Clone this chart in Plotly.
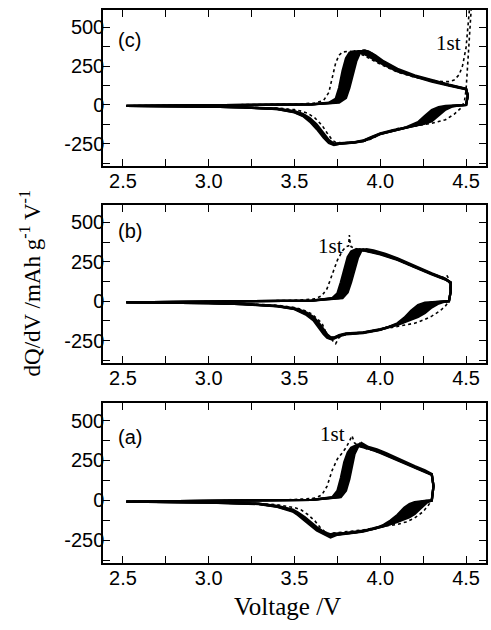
import plotly.graph_objects as go

# ---------------- data ----------------
X_TICKS = [2.5, 2.75, 3.0, 3.25, 3.5, 3.75, 4.0, 4.25, 4.5]
X_LABELS = ["2.5", "", "3.0", "", "3.5", "", "4.0", "", "4.5"]
Y_TICKS = [-375, -250, -125, 0, 125, 250, 375, 500]
Y_LABELS = ["", "-250", "", "0", "", "250", "", "500"]
PANELS = ["(a)", "(b)", "(c)"]

# Panel (c): 4.5 V cut-off
C_CH_V = [
    [2.52, 3.0, 3.4, 3.6, 3.70, 3.74, 3.76, 3.78, 3.80, 3.82, 3.85, 3.88, 3.92, 4.0, 4.1, 4.2, 4.3, 4.4, 4.5, 4.51, 4.50],
    [2.52, 3.0, 3.4, 3.6, 3.72, 3.76, 3.78, 3.80, 3.82, 3.84, 3.87, 3.90, 3.94, 4.0, 4.1, 4.2, 4.3, 4.4, 4.5, 4.51, 4.50],
    [2.52, 3.0, 3.4, 3.6, 3.74, 3.78, 3.80, 3.82, 3.84, 3.86, 3.88, 3.91, 3.95, 4.0, 4.1, 4.2, 4.3, 4.4, 4.5, 4.51, 4.50],
    [2.52, 3.0, 3.4, 3.6, 3.76, 3.80, 3.82, 3.84, 3.86, 3.88, 3.90, 3.93, 3.97, 4.02, 4.1, 4.2, 4.3, 4.4, 4.5, 4.51, 4.50],
]
C_CH_Q = [
    [-6, -3, 0, 4, 15, 40, 110, 220, 300, 335, 345, 340, 320, 270, 215, 180, 150, 125, 100, 60, 0],
    [-6, -3, 0, 4, 15, 40, 100, 200, 280, 330, 345, 345, 320, 275, 220, 183, 153, 127, 102, 60, 0],
    [-6, -3, 0, 4, 15, 40, 100, 190, 270, 320, 340, 350, 330, 285, 225, 186, 155, 128, 103, 60, 0],
    [-6, -3, 0, 4, 15, 45, 110, 200, 280, 330, 350, 345, 320, 280, 232, 190, 158, 130, 105, 60, 0],
]
C_DIS_V = [4.50, 4.46, 4.42, 4.38, 4.34, 4.30, 4.26, 4.22, 4.15, 4.08, 4.0, 3.95, 3.9, 3.85, 3.8,
           3.76, 3.73, 3.70, 3.67, 3.63, 3.59, 3.55, 3.5, 3.4, 3.2, 3.0, 2.52]
C_DIS_Q = [
    [0, -3, -10, -30, -70, -105, -120, -130, -145, -160, -182, -205, -228, -238, -242, -250, -248, -225, -180, -125, -85, -58, -40, -24, -15, -10, -6],
    [0, -2, -6, -18, -45, -85, -115, -128, -145, -162, -185, -208, -230, -240, -244, -252, -250, -232, -190, -135, -92, -62, -43, -25, -15, -10, -6],
    [0, -2, -4, -10, -25, -55, -95, -122, -146, -163, -185, -210, -232, -240, -243, -250, -255, -240, -200, -145, -100, -68, -46, -26, -16, -11, -6],
    [0, -2, -3, -6, -14, -32, -70, -110, -144, -165, -188, -212, -233, -242, -245, -250, -258, -245, -210, -155, -108, -72, -48, -27, -16, -11, -6],
]
C_FIRST_V = [2.52, 3.0, 3.5, 3.62, 3.67, 3.70, 3.72, 3.74, 3.76, 3.78, 3.82, 3.86, 3.9, 4.0, 4.1, 4.2, 4.3,
             4.36, 4.40, 4.43, 4.46, 4.48, 4.50, 4.51, 4.52,
             4.53, 4.52, 4.51, 4.50, 4.49, 4.47, 4.43, 4.38, 4.3, 4.2, 4.1, 4.0, 3.95, 3.9, 3.85, 3.78,
             3.74, 3.72, 3.69, 3.66, 3.62, 3.58, 3.54, 3.5, 3.4, 3.0, 2.52]
C_FIRST_Q = [-5, -2, 5, 12, 30, 80, 180, 270, 320, 340, 345, 340, 320, 262, 212, 178, 158,
             150, 150, 160, 195, 255, 370, 480, 620,
             620, 450, 250, 100, 20, -20, -60, -95, -118, -135, -152, -185, -218, -234, -240, -244,
             -240, -225, -180, -130, -85, -55, -40, -30, -20, -10, -6]

# Panel (b): 4.4 V cut-off
B_CH_V = [
    [2.52, 3.0, 3.4, 3.6, 3.72, 3.75, 3.77, 3.79, 3.81, 3.83, 3.86, 3.90, 4.00, 4.1, 4.2, 4.3, 4.38, 4.41, 4.41, 4.40],
    [2.52, 3.0, 3.4, 3.6, 3.74, 3.77, 3.79, 3.81, 3.83, 3.85, 3.88, 3.92, 4.00, 4.1, 4.2, 4.3, 4.38, 4.41, 4.41, 4.40],
    [2.52, 3.0, 3.4, 3.6, 3.76, 3.79, 3.81, 3.83, 3.85, 3.87, 3.90, 3.94, 4.02, 4.1, 4.2, 4.3, 4.38, 4.41, 4.41, 4.40],
    [2.52, 3.0, 3.4, 3.6, 3.78, 3.81, 3.83, 3.85, 3.87, 3.89, 3.92, 3.96, 4.03, 4.1, 4.2, 4.3, 4.38, 4.41, 4.41, 4.40],
]
B_CH_Q = [
    [-8, -4, 0, 4, 20, 50, 120, 210, 280, 315, 330, 322, 297, 262, 214, 170, 137, 117, 60, 0],
    [-8, -4, 0, 4, 20, 50, 115, 205, 275, 315, 330, 320, 300, 265, 216, 172, 138, 118, 60, 0],
    [-8, -4, 0, 4, 20, 50, 115, 200, 270, 315, 330, 318, 298, 268, 218, 174, 140, 119, 60, 0],
    [-8, -4, 0, 4, 20, 55, 120, 205, 275, 320, 330, 322, 300, 272, 222, 177, 142, 120, 60, 0],
]
B_DIS_V = [4.40, 4.37, 4.34, 4.30, 4.26, 4.22, 4.18, 4.14, 4.1, 4.05, 4.0, 3.9, 3.8, 3.76, 3.73,
           3.71, 3.69, 3.67, 3.64, 3.61, 3.57, 3.53, 3.5, 3.4, 3.2, 3.0, 2.52]
B_DIS_Q = [
    [0, -5, -15, -40, -75, -100, -118, -135, -150, -165, -178, -198, -205, -215, -230, -228, -210, -180, -135, -100, -72, -55, -45, -30, -18, -12, -8],
    [0, -3, -6, -15, -35, -70, -105, -130, -148, -165, -180, -200, -207, -218, -232, -232, -218, -190, -145, -108, -78, -58, -47, -31, -18, -12, -8],
    [0, -2, -4, -8, -18, -45, -85, -120, -145, -164, -180, -200, -208, -220, -235, -236, -225, -200, -155, -115, -83, -62, -49, -32, -19, -13, -8],
    [0, -2, -3, -5, -10, -25, -60, -105, -140, -162, -182, -202, -210, -222, -238, -240, -232, -210, -165, -122, -88, -65, -51, -33, -19, -13, -8],
]
B_FIRST_V = [2.52, 3.0, 3.5, 3.62, 3.66, 3.69, 3.72, 3.75, 3.78, 3.80, 3.815, 3.82, 3.825, 3.83, 3.85,
             3.9, 4.0, 4.1, 4.2, 4.3, 4.37, 4.39, 4.40, 4.41, 4.40,
             4.38, 4.35, 4.3, 4.25, 4.2, 4.1, 4.0, 3.9, 3.8, 3.76, 3.74, 3.72, 3.70, 3.68,
             3.66, 3.63, 3.6, 3.55, 3.5, 3.4, 3.2, 3.0, 2.52]
B_FIRST_Q = [-6, -3, 5, 15, 35, 80, 170, 260, 320, 345, 350, 420, 360, 345, 335,
             320, 300, 262, 215, 172, 150, 160, 140, 60, 0,
             -30, -60, -95, -120, -140, -160, -180, -200, -210, -230, -270, -245, -225, -190,
             -140, -110, -80, -55, -40, -26, -15, -10, -6]

# Panel (a): 4.3 V cut-off
A_CH_V = [
    [2.52, 3.0, 3.4, 3.6, 3.72, 3.75, 3.77, 3.79, 3.81, 3.83, 3.86, 3.90, 3.95, 4.0, 4.1, 4.2, 4.26, 4.30, 4.31, 4.30],
    [2.52, 3.0, 3.4, 3.6, 3.74, 3.77, 3.79, 3.81, 3.83, 3.85, 3.87, 3.91, 3.96, 4.0, 4.1, 4.2, 4.26, 4.30, 4.31, 4.30],
    [2.52, 3.0, 3.4, 3.6, 3.76, 3.79, 3.81, 3.83, 3.84, 3.86, 3.88, 3.92, 3.97, 4.02, 4.1, 4.2, 4.26, 4.30, 4.31, 4.30],
    [2.52, 3.0, 3.4, 3.6, 3.77, 3.80, 3.82, 3.84, 3.85, 3.87, 3.89, 3.93, 3.98, 4.03, 4.1, 4.2, 4.26, 4.30, 4.31, 4.30],
]
A_CH_Q = [
    [-7, -4, 0, 4, 20, 60, 140, 240, 300, 330, 345, 335, 318, 298, 252, 208, 182, 160, 90, 0],
    [-7, -4, 0, 4, 20, 55, 130, 230, 290, 330, 350, 335, 315, 300, 255, 210, 184, 162, 90, 0],
    [-7, -4, 0, 4, 20, 55, 130, 225, 285, 330, 355, 330, 318, 295, 258, 212, 186, 164, 90, 0],
    [-7, -4, 0, 4, 20, 60, 135, 230, 290, 335, 360, 335, 320, 298, 262, 215, 188, 166, 90, 0],
]
A_DIS_V = [4.30, 4.27, 4.24, 4.20, 4.17, 4.14, 4.10, 4.06, 4.02, 3.97, 3.9, 3.85, 3.8, 3.75, 3.71,
           3.69, 3.66, 3.63, 3.60, 3.56, 3.52, 3.49, 3.4, 3.29, 3.0, 2.52]
A_DIS_Q = [
    [0, -15, -45, -85, -105, -120, -135, -148, -160, -172, -190, -198, -203, -207, -212, -205, -190, -168, -140, -105, -75, -58, -35, -20, -12, -7],
    [0, -6, -20, -55, -85, -108, -130, -148, -162, -175, -192, -200, -205, -210, -218, -210, -195, -175, -148, -112, -80, -62, -37, -21, -12, -7],
    [0, -3, -8, -25, -50, -80, -115, -140, -160, -176, -194, -202, -207, -212, -224, -215, -200, -182, -155, -120, -86, -66, -39, -22, -13, -7],
    [0, -2, -4, -10, -22, -45, -90, -125, -152, -176, -195, -203, -208, -215, -232, -220, -205, -188, -162, -126, -92, -70, -41, -23, -13, -7],
]
A_FIRST_V = [2.52, 3.0, 3.5, 3.62, 3.66, 3.69, 3.72, 3.75, 3.78, 3.80, 3.82, 3.835, 3.84, 3.85, 3.87,
             3.9, 4.0, 4.1, 4.2, 4.26, 4.30, 4.31, 4.30,
             4.28, 4.25, 4.2, 4.15, 4.1, 4.0, 3.9, 3.8, 3.72, 3.70, 3.68, 3.65, 3.62, 3.58, 3.54, 3.5,
             3.4, 3.2, 3.0, 2.52]
A_FIRST_Q = [-6, -3, 5, 15, 35, 90, 190, 260, 300, 330, 370, 405, 390, 360, 345,
             330, 300, 255, 210, 180, 160, 100, 0,
             -30, -70, -110, -135, -150, -165, -185, -195, -205, -215, -200, -170, -130, -90, -60, -45,
             -27, -15, -10, -6]

FIRST_LABEL_POS = [(3.72, 416), (3.71, 350), (4.40, 395)]
PANEL_LABEL_Y = [0.79, 0.835, 0.81]

# ---------------- figure ----------------
fig = go.Figure()

panels = [
    (A_CH_V, A_CH_Q, A_DIS_V, A_DIS_Q, A_FIRST_V, A_FIRST_Q),
    (B_CH_V, B_CH_Q, B_DIS_V, B_DIS_Q, B_FIRST_V, B_FIRST_Q),
    (C_CH_V, C_CH_Q, C_DIS_V, C_DIS_Q, C_FIRST_V, C_FIRST_Q),
]
axis_ids = [("x", "y"), ("x2", "y2"), ("x3", "y3")]

for (chv, chq, dv, dq, fv, fq), (xa, ya) in zip(panels, axis_ids):
    # dense band between the earliest and latest of the later cycles (charge)
    fig.add_trace(go.Scatter(
        x=list(chv[0]) + list(chv[-1])[::-1], y=list(chq[0]) + list(chq[-1])[::-1],
        mode="none", fill="toself", fillcolor="black",
        xaxis=xa, yaxis=ya, showlegend=False, hoverinfo="skip"))
    # dense band (discharge)
    fig.add_trace(go.Scatter(
        x=list(dv) + list(dv)[::-1], y=list(dq[0]) + list(dq[-1])[::-1],
        mode="none", fill="toself", fillcolor="black",
        xaxis=xa, yaxis=ya, showlegend=False, hoverinfo="skip"))
    for i in range(len(chv)):
        fig.add_trace(go.Scatter(
            x=list(chv[i]) + list(dv), y=list(chq[i]) + list(dq[i]),
            mode="lines", line=dict(color="black", width=2.3),
            xaxis=xa, yaxis=ya, showlegend=False, hoverinfo="skip"))
    fig.add_trace(go.Scatter(
        x=fv, y=fq, mode="lines",
        line=dict(color="black", width=1.6, dash="dot"),
        xaxis=xa, yaxis=ya, showlegend=False, hoverinfo="skip"))

domains = [[0.0, 0.2893], [0.3617, 0.6474], [0.7179, 1.0]]
tick_font = dict(family="Liberation Sans, Arial, sans-serif", size=20, color="black")

def xax(anchor):
    return dict(range=[2.384, 4.616], tickmode="array", tickvals=X_TICKS, ticktext=X_LABELS,
                ticks="inside", ticklen=7, tickwidth=1.3, tickcolor="black",
                showline=True, linewidth=1.5, linecolor="black", mirror="allticks",
                showgrid=False, zeroline=False, anchor=anchor, tickfont=tick_font,
                ticklabelstandoff=-4, domain=[0, 1])

def yax(anchor, dom):
    return dict(range=[-392, 610], tickmode="array", tickvals=Y_TICKS, ticktext=Y_LABELS,
                ticks="inside", ticklen=7, tickwidth=1.3, tickcolor="black",
                showline=True, linewidth=1.5, linecolor="black", mirror="allticks",
                showgrid=False, zeroline=False, anchor=anchor, tickfont=tick_font,
                ticklabelstandoff=-7, domain=dom)

fig.update_layout(
    width=491, height=630,
    margin=dict(l=103, r=3, t=10, b=67),
    paper_bgcolor="white", plot_bgcolor="white",
    xaxis=xax("y"), yaxis=yax("x", domains[0]),
    xaxis2=xax("y2"), yaxis2=yax("x2", domains[1]),
    xaxis3=xax("y3"), yaxis3=yax("x3", domains[2]),
)

annotations = []
for k, (xa, ya) in enumerate(axis_ids):
    annotations.append(dict(
        text=PANELS[k], xref=f"{xa} domain", yref=f"{ya} domain",
        x=0.035, y=PANEL_LABEL_Y[k], xanchor="left", yanchor="middle", showarrow=False,
        font=dict(family="Liberation Sans, Arial, sans-serif", size=20, color="black")))
    fx, fy = FIRST_LABEL_POS[k]
    annotations.append(dict(
        text="1st", xref=xa, yref=ya, x=fx, y=fy, showarrow=False,
        xanchor="center", yanchor="middle",
        font=dict(family="Liberation Serif, Times New Roman, serif", size=21, color="black")))

annotations.append(dict(
    text="dQ/dV /mAh g<sup>-1</sup> V<sup>-1</sup>", xref="paper", yref="paper",
    x=-0.19, y=0.506, textangle=-90, showarrow=False, xanchor="center", yanchor="middle",
    font=dict(family="Liberation Serif, Times New Roman, serif", size=23, color="black")))
annotations.append(dict(
    text="Voltage /V", xref="paper", yref="paper",
    x=0.483, y=-0.078, showarrow=False, xanchor="center", yanchor="middle",
    font=dict(family="Liberation Serif, Times New Roman, serif", size=25, color="black")))

fig.update_layout(annotations=annotations)

fig.write_html("out.html", config={"displayModeBar": False},
               post_script="document.body.style.margin='0';document.body.style.overflow='hidden';")
